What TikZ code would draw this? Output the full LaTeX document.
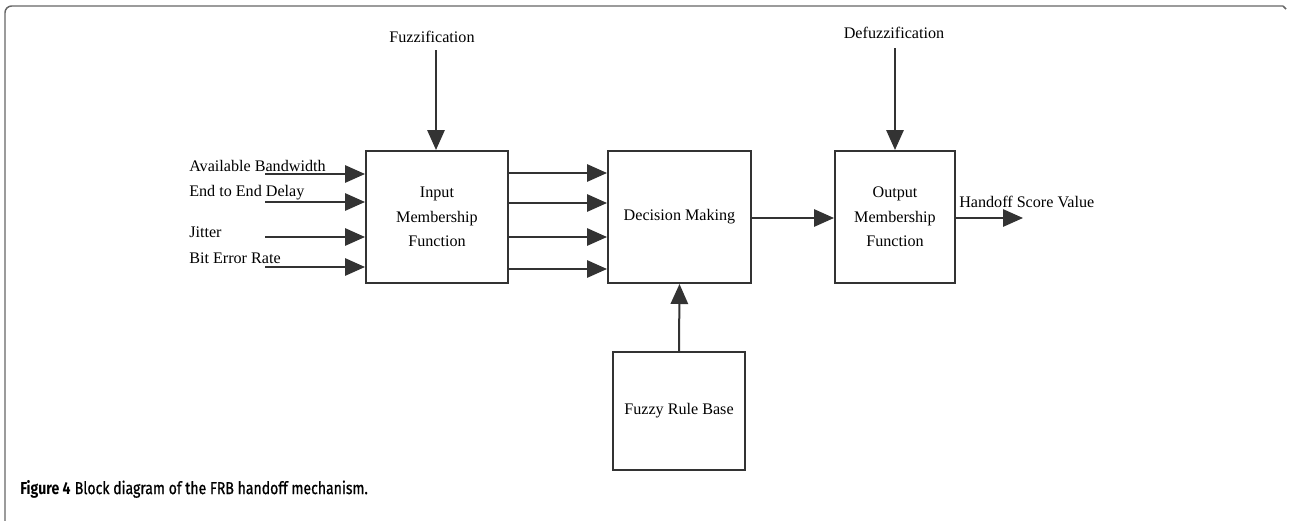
\documentclass[tikz,border=0pt]{standalone}
\usepackage{fontspec}
\setmainfont{Liberation Serif}
\newfontfamily\capfont[FakeStretch=0.81]{Fira Sans}
\newfontfamily\captext[FakeStretch=0.81, FakeBold=0.8]{Fira Sans}
\usepackage{tikz}
\usetikzlibrary{positioning, arrows.meta, calc}

\begin{document}
\begin{tikzpicture}[
    x=0.75pt, y=-0.75pt,
    block/.style={rectangle, draw=black!80, line width=1.5pt, inner sep=0pt, align=center, font=\fontsize{12.1}{18.5}\selectfont},
    lbl/.style={inner sep=0pt, font=\fontsize{12.1}{14}\selectfont},
    flow/.style={-{Triangle[length=15pt, width=13pt]}, line width=1.5pt, black!80},
]
\useasboundingbox (0,0) rectangle (1289,521);

% outer frame
\draw[black!60, line width=1.1pt, rounded corners=5pt] (5,521) -- (5,6) -- (1283,6);
\draw[black!60, line width=1.1pt] (1283,6) -- (1286,9);

% blocks
\node[block, minimum width=142*0.75pt, minimum height=132*0.75pt] (inmf) at (437,217) {Input\\Membership\\Function};
\node[block, minimum width=143*0.75pt, minimum height=132*0.75pt] (dec) at (679.5,217) {Decision Making};
\node[block, minimum width=120*0.75pt, minimum height=132*0.75pt] (outmf) at (895,217) {Output\\Membership\\Function};
\node[block, minimum width=132*0.75pt, minimum height=118*0.75pt] (rules) at (679,411) {Fuzzy Rule Base};

% top labels
\node[lbl] (fuzz) at (432,37) {Fuzzification};
\node[lbl] (defuzz) at (894,33) {Defuzzification};
\coordinate (fz) at (436,50);
\coordinate (dz) at (895,48);
\draw[flow] (fz) -- (fz |- inmf.north);
\draw[flow] (dz) -- (dz |- outmf.north);

% inputs
\node[lbl, anchor=west] (bw) at (189,166) {Available Bandwidth};
\node[lbl, anchor=west] (delay) at (189,193) {End to End Delay};
\node[lbl, anchor=west] (jitter) at (189,232) {Jitter};
\node[lbl, anchor=west] (ber) at (189,258) {Bit Error Rate};
\foreach \y/\n in {174/a, 202/b, 237/c, 267/d} {
    \coordinate (in\n) at (265,\y);
    \draw[flow] (in\n) -- (in\n -| inmf.west);
}

% fuzzified values
\foreach \y/\n in {173/a, 203/b, 237/c, 269/d} {
    \coordinate (mf\n) at (508,\y);
    \draw[flow] (mf\n) -- (mf\n -| dec.west);
}

\coordinate (dm) at (751,218);
\draw[flow] (dm) -- (dm -| outmf.west);
\draw[flow] (rules.north) -- (dec.south);

% output
\coordinate (hs) at (1023,218);
\draw[flow] (outmf.east |- hs) -- (hs);
\node[lbl, anchor=west] (score) at (959,202) {Handoff Score Value};

% caption
\node[anchor=west, inner sep=0pt, font=\fontsize{13}{15}\selectfont] (cap) at (20,489) {{\capfont\bfseries Figure 4} \captext Block diagram of the FRB handoff mechanism.};

\end{tikzpicture}
\end{document}
